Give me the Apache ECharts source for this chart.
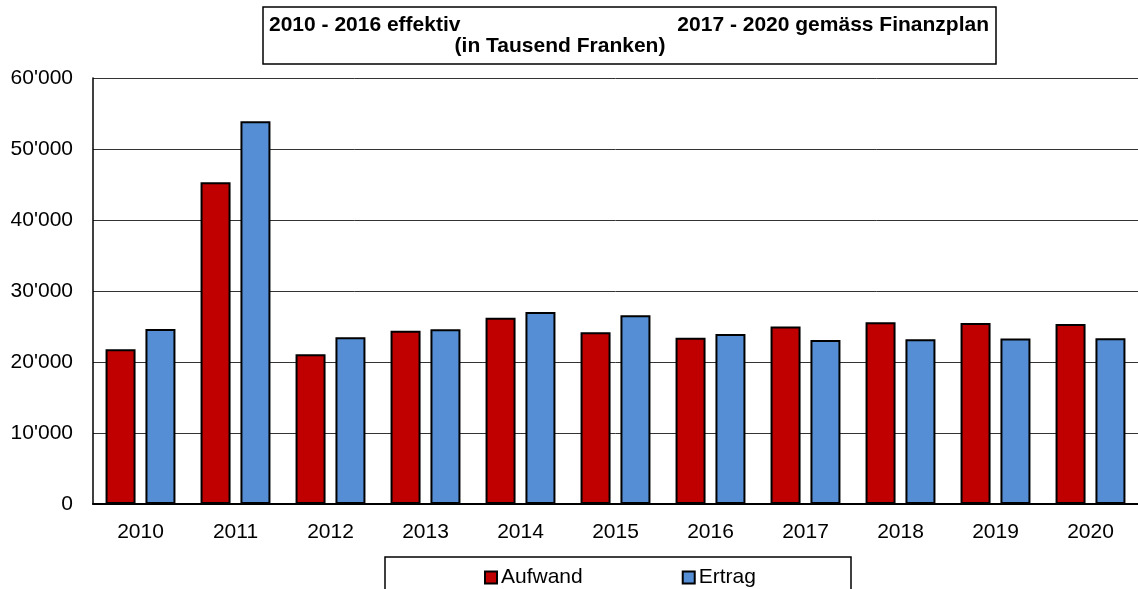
<!DOCTYPE html>
<html>
<head>
<meta charset="utf-8">
<script src="https://cdn.jsdelivr.net/npm/echarts@6/dist/echarts.min.js"></script>
<style>html,body{margin:0;padding:0;background:#fff}#c{width:1138px;height:589px}</style>
</head>
<body>
<div id="c"></div>
<script>
const categories = ['2010','2011','2012','2013','2014','2015','2016','2017','2018','2019','2020'];
const aufwand = [21800, 45300, 21100, 24400, 26250, 24200, 23400, 25000, 25600, 25500, 25350];
const ertrag  = [24650, 53900, 23500, 24600, 27050, 26600, 23950, 23100, 23200, 23300, 23350];
const seriesNames = ['Aufwand', 'Ertrag'];
const titleLeft = '2010 - 2016 effektiv';
const titleRight = '2017 - 2020 gemäss Finanzplan';
const subtitle = '(in Tausend Franken)';

const FONT = '"Liberation Sans", Arial, sans-serif';
const chart = echarts.init(document.getElementById('c'), null, {renderer: 'canvas'});
function fmt(v){ return String(v).replace(/\B(?=(\d{3})+(?!\d))/g, "'"); }

chart.setOption({
  animation: false,
  backgroundColor: '#fff',
  grid: {left: 93, right: 0, top: 78, bottom: 85, containLabel: false},
  xAxis: {
    type: 'category', data: categories,
    axisLine: {lineStyle: {color: '#000', width: 2}},
    axisTick: {show: false},
    axisLabel: {color: '#000', fontSize: 21, fontFamily: FONT, margin: 18}
  },
  yAxis: {
    type: 'value', min: 0, max: 60000, interval: 10000,
    axisLine: {show: true, lineStyle: {color: '#000', width: 1.5}},
    axisTick: {show: false},
    splitLine: {lineStyle: {color: '#333', width: 1}},
    axisLabel: {color: '#000', fontSize: 21, fontFamily: FONT, margin: 20, formatter: fmt}
  },
  legend: {
    left: 479, top: 562, itemWidth: 12, itemHeight: 12, itemGap: 99,
    icon: 'rect',
    textStyle: {color: '#000', fontSize: 21, fontFamily: FONT, padding: [0,0,0,-1]},
    data: seriesNames
  },
  graphic: [
    {type: 'rect', shape: {x: 263, y: 7, width: 733, height: 57}, style: {fill: '#fff', stroke: '#000', lineWidth: 1.5}, z: 10},
    {type: 'text', x: 269, y: 36, style: {text: titleLeft, fill: '#000', font: 'bold 21px ' + FONT, textAlign: 'left', textVerticalAlign: 'bottom'}, z: 11},
    {type: 'text', x: 989, y: 36, style: {text: titleRight, fill: '#000', font: 'bold 21px ' + FONT, textAlign: 'right', textVerticalAlign: 'bottom'}, z: 11},
    {type: 'text', x: 560, y: 57, style: {text: subtitle, fill: '#000', font: 'bold 21px ' + FONT, textAlign: 'center', textVerticalAlign: 'bottom'}, z: 11},
    {type: 'rect', shape: {x: 385, y: 557, width: 466, height: 40}, style: {fill: 'none', stroke: '#000', lineWidth: 1.5}, z: 10}
  ],
  series: [
    {name: seriesNames[0], type: 'bar', data: aufwand, barWidth: 30, barGap: '33%',
     itemStyle: {color: '#C00000', borderColor: '#000', borderWidth: 2}},
    {name: seriesNames[1], type: 'bar', data: ertrag, barWidth: 30,
     itemStyle: {color: '#558ED5', borderColor: '#000', borderWidth: 2}}
  ]
});
</script>
</body>
</html>
